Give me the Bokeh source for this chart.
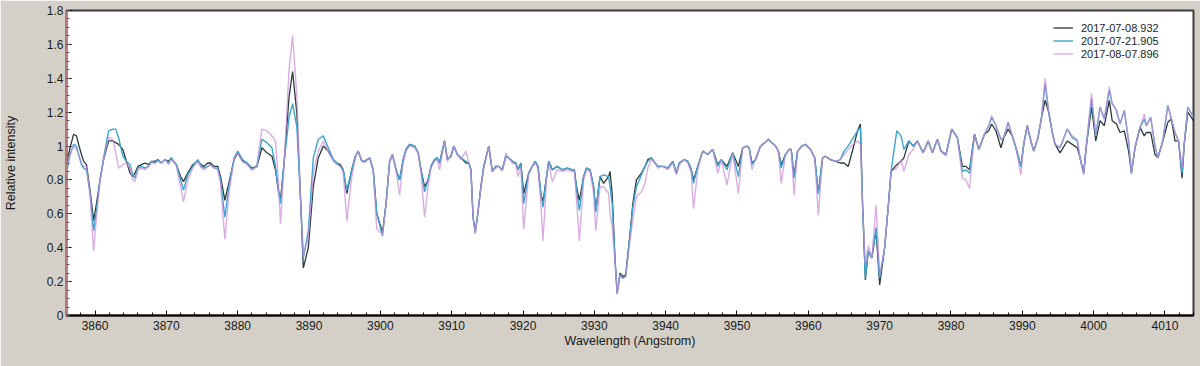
from bokeh.plotting import figure
from bokeh.models import Range1d, FixedTicker, CustomJSTickFormatter, Legend, LegendItem
from bokeh.embed import file_html
from bokeh.resources import INLINE

# ---------------- data ----------------
series_labels = ["2017-07-08.932", "2017-07-21.905", "2017-08-07.896"]

wavelength = [
    3856.0, 3856.5, 3857.0, 3857.4, 3857.7, 3858.1, 3858.4, 3858.8, 3859.3, 3859.8,
    3860.2, 3860.7, 3861.2, 3861.9, 3862.5, 3862.9, 3863.3, 3863.9, 3864.4, 3864.9,
    3865.3, 3865.6, 3866.0, 3866.5, 3867.0, 3867.5, 3867.9, 3868.4, 3868.8, 3869.3,
    3869.8, 3870.3, 3870.7, 3871.0, 3871.4, 3872.0, 3872.4, 3873.0, 3873.7, 3874.4,
    3874.9, 3875.3, 3875.8, 3876.2, 3876.7, 3877.2, 3877.6, 3878.2, 3878.8, 3879.5,
    3880.0, 3880.7, 3881.3, 3882.0, 3882.7, 3883.4, 3884.1, 3884.8, 3885.3, 3885.7,
    3886.0, 3886.5, 3887.2, 3887.7, 3888.3, 3888.8, 3889.2, 3889.9, 3890.6, 3891.3,
    3892.0, 3892.7, 3893.4, 3893.9, 3894.4, 3894.8, 3895.3, 3896.0, 3896.5, 3896.9,
    3897.4, 3897.8, 3898.5, 3899.0, 3899.5, 3900.3, 3900.8, 3901.3, 3901.7, 3902.2,
    3902.7, 3903.2, 3903.6, 3904.1, 3904.8, 3905.3, 3905.7, 3906.2, 3906.7, 3907.1,
    3907.6, 3908.0, 3908.3, 3909.0, 3909.4, 3909.9, 3910.3, 3910.8, 3911.3, 3912.0,
    3912.4, 3912.7, 3913.0, 3913.3, 3913.6, 3914.1, 3914.5, 3915.2, 3915.7, 3916.2,
    3916.6, 3917.1, 3917.6, 3918.0, 3918.5, 3919.0, 3919.3, 3919.7, 3920.1, 3920.8,
    3921.3, 3921.7, 3922.1, 3922.5, 3922.8, 3923.3, 3923.6, 3924.1, 3924.8, 3925.5,
    3926.2, 3926.9, 3927.2, 3927.5, 3927.9, 3928.5, 3928.9, 3929.4, 3929.9, 3930.2,
    3930.8, 3931.3, 3932.0, 3932.2, 3932.5, 3932.9, 3933.2, 3933.6, 3934.0, 3934.4,
    3935.0, 3935.4, 3935.9, 3936.6, 3937.1, 3937.5, 3938.0, 3938.5, 3938.9, 3939.6,
    3940.3, 3941.0, 3941.5, 3941.9, 3942.6, 3943.1, 3943.6, 3943.9, 3944.5, 3945.2,
    3945.9, 3946.6, 3947.3, 3947.8, 3948.6, 3949.4, 3950.2, 3950.8, 3951.4, 3951.7,
    3952.1, 3952.6, 3953.3, 3953.9, 3954.4, 3954.9, 3955.4, 3955.8, 3956.2, 3956.8,
    3957.3, 3957.6, 3958.0, 3958.5, 3959.1, 3959.6, 3960.3, 3960.9, 3961.4, 3962.0,
    3962.4, 3963.1, 3963.8, 3964.5, 3965.0, 3965.6, 3966.3, 3966.9, 3967.3, 3967.6,
    3968.0, 3968.4, 3968.9, 3969.5, 3970.0, 3970.7, 3971.2, 3971.6, 3972.4, 3973.0,
    3973.4, 3974.1, 3974.7, 3975.3, 3976.1, 3976.8, 3977.4, 3978.1, 3978.6, 3979.3,
    3980.1, 3980.9, 3981.6, 3982.1, 3982.6, 3983.3, 3983.9, 3984.7, 3985.3, 3985.7,
    3986.3, 3987.0, 3987.4, 3988.0, 3988.6, 3989.1, 3989.8, 3990.2, 3990.7, 3991.2,
    3991.6, 3992.2, 3992.7, 3993.2, 3993.7, 3994.2, 3994.6, 3995.3, 3996.3, 3997.0,
    3997.7, 3998.1, 3998.6, 3999.0, 3999.7, 4000.3, 4000.9, 4001.5, 4002.2, 4002.6,
    4003.2, 4003.7, 4004.3, 4004.9, 4005.3, 4005.8, 4006.5, 4007.1, 4007.4, 4008.0,
    4008.6, 4009.0, 4009.7, 4010.4, 4010.9, 4011.4, 4011.9, 4012.4, 4012.7, 4013.2,
    4014.0,
]

intensity_0708 = [
    0.90, 0.99, 1.07, 1.06, 1.01, 0.95, 0.91, 0.89, 0.74, 0.56,
    0.66, 0.80, 0.92, 1.03, 1.03, 1.02, 1.01, 0.98, 0.91, 0.84,
    0.82, 0.84, 0.88, 0.89, 0.90, 0.89, 0.91, 0.91, 0.92, 0.90,
    0.92, 0.91, 0.93, 0.91, 0.89, 0.82, 0.79, 0.84, 0.89, 0.91,
    0.89, 0.88, 0.90, 0.90, 0.88, 0.88, 0.82, 0.68, 0.79, 0.92,
    0.96, 0.91, 0.90, 0.87, 0.88, 0.99, 0.96, 0.94, 0.86, 0.74,
    0.68, 0.90, 1.29, 1.44, 1.19, 0.70, 0.28, 0.40, 0.76, 0.93,
    1.00, 0.97, 0.92, 0.90, 0.89, 0.86, 0.72, 0.86, 0.94, 0.97,
    0.91, 0.91, 0.93, 0.86, 0.60, 0.49, 0.66, 0.91, 0.95, 0.86,
    0.80, 0.92, 0.98, 1.01, 1.00, 0.96, 0.86, 0.76, 0.80, 0.88,
    0.92, 0.93, 0.90, 1.03, 0.92, 0.94, 1.00, 0.95, 0.93, 0.90,
    0.90, 0.86, 0.58, 0.49, 0.58, 0.76, 0.88, 1.00, 0.85, 0.88,
    0.88, 0.86, 0.94, 0.93, 0.91, 0.90, 0.86, 0.90, 0.72, 0.84,
    0.88, 0.91, 0.88, 0.72, 0.67, 0.82, 0.91, 0.86, 0.88, 0.86,
    0.87, 0.86, 0.86, 0.76, 0.68, 0.82, 0.87, 0.86, 0.76, 0.62,
    0.82, 0.78, 0.82, 0.85, 0.72, 0.33, 0.13, 0.25, 0.23, 0.24,
    0.48, 0.66, 0.80, 0.84, 0.88, 0.92, 0.93, 0.90, 0.88, 0.88,
    0.87, 0.91, 0.84, 0.90, 0.92, 0.91, 0.86, 0.80, 0.88, 0.97,
    0.95, 0.98, 0.89, 0.92, 0.88, 0.96, 0.88, 0.99, 1.00, 0.99,
    0.90, 0.92, 1.00, 1.02, 1.04, 1.02, 1.00, 0.97, 0.89, 0.95,
    0.98, 0.98, 0.82, 0.97, 1.00, 1.01, 0.98, 0.93, 0.72, 0.93,
    0.94, 0.92, 0.91, 0.90, 0.90, 0.88, 0.99, 1.09, 1.13, 0.66,
    0.21, 0.38, 0.34, 0.50, 0.18, 0.40, 0.64, 0.85, 0.89, 0.91,
    0.93, 1.03, 1.00, 1.03, 0.96, 1.03, 0.96, 1.04, 0.97, 0.95,
    1.10, 1.05, 0.88, 0.88, 0.86, 1.07, 0.98, 1.07, 1.09, 1.13,
    1.09, 0.99, 1.05, 1.10, 1.06, 0.99, 0.88, 1.01, 1.12, 1.03,
    0.97, 1.05, 1.17, 1.27, 1.20, 1.08, 1.01, 0.96, 1.03, 1.01,
    0.99, 0.93, 0.84, 1.01, 1.23, 1.03, 1.15, 1.12, 1.27, 1.15,
    1.13, 1.08, 1.09, 0.97, 0.84, 0.99, 1.11, 1.06, 1.08, 1.08,
    0.95, 0.93, 1.03, 1.14, 1.16, 1.03, 1.03, 0.81, 1.01, 1.20,
    1.15,
]

intensity_0721 = [
    0.84, 0.95, 1.01, 1.00, 0.95, 0.89, 0.87, 0.86, 0.72, 0.50,
    0.62, 0.80, 0.93, 1.09, 1.10, 1.10, 1.05, 0.94, 0.91, 0.89,
    0.83, 0.81, 0.87, 0.88, 0.87, 0.88, 0.91, 0.90, 0.92, 0.90,
    0.92, 0.90, 0.93, 0.91, 0.89, 0.80, 0.74, 0.83, 0.88, 0.92,
    0.88, 0.87, 0.88, 0.89, 0.87, 0.87, 0.80, 0.58, 0.77, 0.93,
    0.97, 0.92, 0.90, 0.86, 0.88, 1.04, 1.02, 0.99, 0.88, 0.74,
    0.66, 0.90, 1.17, 1.25, 1.11, 0.70, 0.34, 0.50, 0.93, 1.04,
    1.06, 0.99, 0.92, 0.90, 0.88, 0.86, 0.74, 0.86, 0.94, 0.97,
    0.91, 0.91, 0.93, 0.86, 0.60, 0.47, 0.66, 0.91, 0.95, 0.86,
    0.80, 0.92, 0.98, 1.01, 1.00, 0.96, 0.86, 0.73, 0.80, 0.88,
    0.92, 0.93, 0.90, 1.03, 0.92, 0.94, 1.00, 0.95, 0.93, 0.91,
    0.90, 0.86, 0.58, 0.49, 0.58, 0.76, 0.88, 1.00, 0.85, 0.88,
    0.88, 0.86, 0.94, 0.93, 0.91, 0.90, 0.86, 0.90, 0.66, 0.84,
    0.88, 0.91, 0.88, 0.72, 0.64, 0.82, 0.91, 0.86, 0.88, 0.86,
    0.87, 0.86, 0.86, 0.74, 0.62, 0.82, 0.87, 0.86, 0.76, 0.61,
    0.82, 0.83, 0.82, 0.76, 0.66, 0.33, 0.13, 0.24, 0.22, 0.23,
    0.47, 0.64, 0.76, 0.83, 0.88, 0.91, 0.93, 0.90, 0.88, 0.88,
    0.87, 0.91, 0.84, 0.90, 0.92, 0.91, 0.86, 0.78, 0.88, 0.97,
    0.95, 0.98, 0.88, 0.92, 0.86, 0.96, 0.82, 0.99, 1.00, 0.99,
    0.89, 0.92, 1.00, 1.02, 1.04, 1.02, 1.00, 0.97, 0.87, 0.95,
    0.98, 0.98, 0.81, 0.97, 1.00, 1.01, 0.98, 0.93, 0.72, 0.93,
    0.94, 0.92, 0.91, 0.92, 0.97, 1.00, 1.05, 1.09, 1.11, 0.66,
    0.22, 0.38, 0.34, 0.52, 0.22, 0.40, 0.64, 0.85, 1.09, 1.06,
    0.98, 1.03, 1.00, 1.03, 0.96, 1.03, 0.96, 1.04, 0.97, 0.95,
    1.10, 1.05, 0.85, 0.86, 0.84, 1.07, 0.98, 1.07, 1.12, 1.17,
    1.12, 1.04, 1.05, 1.14, 1.06, 0.99, 0.88, 1.01, 1.12, 1.03,
    0.97, 1.05, 1.17, 1.37, 1.20, 1.08, 1.01, 0.99, 1.10, 1.05,
    1.03, 0.93, 0.84, 1.01, 1.28, 1.06, 1.23, 1.16, 1.33, 1.25,
    1.21, 1.13, 1.21, 1.03, 0.84, 0.99, 1.11, 1.16, 1.12, 1.17,
    1.00, 0.93, 1.03, 1.24, 1.16, 1.08, 1.03, 0.84, 1.01, 1.23,
    1.17,
]

intensity_0807 = [
    0.87, 0.95, 1.00, 0.98, 0.95, 0.90, 0.88, 0.88, 0.72, 0.38,
    0.58, 0.79, 0.92, 1.05, 1.04, 0.96, 0.87, 0.89, 0.90, 0.87,
    0.80, 0.79, 0.86, 0.87, 0.86, 0.88, 0.90, 0.90, 0.91, 0.90,
    0.92, 0.89, 0.92, 0.91, 0.88, 0.76, 0.67, 0.80, 0.87, 0.91,
    0.87, 0.86, 0.88, 0.89, 0.87, 0.86, 0.78, 0.45, 0.73, 0.92,
    0.96, 0.91, 0.89, 0.86, 0.89, 1.10, 1.09, 1.06, 1.03, 0.80,
    0.54, 0.88, 1.45, 1.65, 1.29, 0.70, 0.35, 0.46, 0.84, 0.97,
    1.03, 0.97, 0.91, 0.89, 0.88, 0.84, 0.56, 0.82, 0.93, 0.97,
    0.91, 0.90, 0.93, 0.85, 0.51, 0.48, 0.65, 0.90, 0.95, 0.85,
    0.71, 0.90, 0.97, 1.00, 0.99, 0.96, 0.84, 0.58, 0.76, 0.87,
    0.91, 0.92, 0.86, 1.03, 0.91, 0.95, 1.00, 0.95, 0.92, 0.97,
    0.90, 0.85, 0.58, 0.48, 0.58, 0.76, 0.87, 1.00, 0.85, 0.87,
    0.88, 0.85, 0.96, 0.93, 0.90, 0.89, 0.82, 0.87, 0.51, 0.83,
    0.88, 0.90, 0.87, 0.66, 0.44, 0.80, 0.90, 0.79, 0.86, 0.85,
    0.86, 0.85, 0.85, 0.68, 0.44, 0.80, 0.86, 0.85, 0.72, 0.50,
    0.76, 0.76, 0.72, 0.60, 0.52, 0.32, 0.13, 0.24, 0.22, 0.23,
    0.44, 0.57, 0.70, 0.73, 0.78, 0.87, 0.92, 0.90, 0.87, 0.88,
    0.86, 0.90, 0.83, 0.89, 0.92, 0.90, 0.84, 0.63, 0.86, 0.97,
    0.95, 0.98, 0.84, 0.92, 0.77, 0.96, 0.72, 0.99, 1.00, 0.99,
    0.86, 0.92, 1.00, 1.02, 1.04, 1.02, 1.00, 0.97, 0.78, 0.95,
    0.98, 0.98, 0.71, 0.97, 1.00, 1.01, 0.98, 0.93, 0.59, 0.93,
    0.94, 0.92, 0.91, 0.92, 0.95, 0.98, 1.01, 1.03, 1.01, 0.66,
    0.30, 0.41, 0.34, 0.65, 0.24, 0.40, 0.64, 0.85, 0.87, 0.92,
    0.85, 0.95, 0.98, 1.03, 0.96, 1.03, 0.96, 1.04, 0.97, 0.94,
    1.10, 1.05, 0.81, 0.80, 0.75, 1.07, 0.98, 1.07, 1.12, 1.18,
    1.12, 1.04, 1.05, 1.14, 1.06, 0.99, 0.83, 1.01, 1.12, 1.03,
    0.97, 1.05, 1.17, 1.40, 1.20, 1.08, 1.01, 0.99, 1.10, 1.06,
    1.04, 0.93, 0.83, 1.01, 1.31, 1.06, 1.23, 1.16, 1.35, 1.25,
    1.21, 1.13, 1.21, 1.03, 0.84, 0.99, 1.11, 1.19, 1.12, 1.17,
    1.00, 0.93, 1.03, 1.24, 1.16, 1.08, 1.03, 0.87, 1.01, 1.23,
    1.17,
]

x_ticks = [3860, 3870, 3880, 3890, 3900, 3910, 3920, 3930, 3940, 3950,
           3960, 3970, 3980, 3990, 4000, 4010]
y_ticks = [0, 0.2, 0.4, 0.6, 0.8, 1.0, 1.2, 1.4, 1.6, 1.8]

assert len(wavelength) == len(intensity_0708) == len(intensity_0721) == len(intensity_0807)

# ---------------- figure ----------------
FONT = "Liberation Sans"
BG = "#d4d0c8"

p = figure(width=1200, height=366, output_backend="svg", toolbar_location=None,
           x_range=Range1d(3856, 4014), y_range=Range1d(0, 1.8),
           min_border_left=58, min_border_right=7, min_border_top=10, min_border_bottom=51,
           border_fill_color=BG, background_fill_color="white",
           outline_line_color="#3c3c3c", outline_line_width=2)
p.grid.visible = False

p.xaxis.ticker = FixedTicker(ticks=x_ticks, minor_ticks=list(range(3856, 4015, 2)))
p.yaxis.ticker = FixedTicker(ticks=y_ticks, minor_ticks=[round(i * 0.05, 2) for i in range(37)])
p.yaxis.formatter = CustomJSTickFormatter(code="return String(Math.round(tick*10)/10);")

for ax in (p.xaxis[0], p.yaxis[0]):
    ax.major_tick_in = 5
    ax.major_tick_out = 0
    ax.minor_tick_in = 3
    ax.minor_tick_out = 0
    ax.major_tick_line_color = "black"
    ax.major_tick_line_width = 1
    ax.major_label_text_font = FONT
    ax.major_label_text_font_size = "12px"
    ax.major_label_text_color = "#1a1a1a"
    ax.axis_label_text_font = FONT
    ax.axis_label_text_font_size = "12.5px"
    ax.axis_label_text_font_style = "normal"
    ax.axis_label_text_color = "#1a1a1a"

p.xaxis.axis_label = "Wavelength (Angstrom)"
p.xaxis.axis_line_color = "black"
p.xaxis.axis_line_width = 2
p.xaxis.minor_tick_line_color = "black"
p.xaxis.major_label_standoff = 5
p.xaxis.axis_label_standoff = 1

p.yaxis.axis_label = "Relative intensity"
p.yaxis.axis_line_color = "#b07a7a"
p.yaxis.axis_line_width = 2
p.yaxis.minor_tick_line_color = "#8a4a4a"
p.yaxis.major_label_standoff = 3
p.yaxis.axis_label_standoff = 26

colors = ["#2b3a3a", "#3aa6d0", "#c98ad9"]
alphas = [1.0, 1.0, 0.7]
widths = [1.3, 1.4, 1.4]
series = [intensity_0708, intensity_0721, intensity_0807]

items = []
for lab, ys, c, a, w in zip(series_labels, series, colors, alphas, widths):
    r = p.line(wavelength, ys, line_color=c, line_width=w, line_alpha=a)
    items.append(LegendItem(label=lab, renderers=[r]))

legend = Legend(items=items, location=(987, 255), margin=0, padding=0, spacing=0,
                label_text_font=FONT, label_text_font_size="11px", label_text_color="#222222",
                label_height=13, glyph_height=13, glyph_width=20, label_standoff=8,
                border_line_alpha=0, background_fill_alpha=0)
p.add_layout(legend)

open("out.html", "w").write(file_html(p, INLINE))
